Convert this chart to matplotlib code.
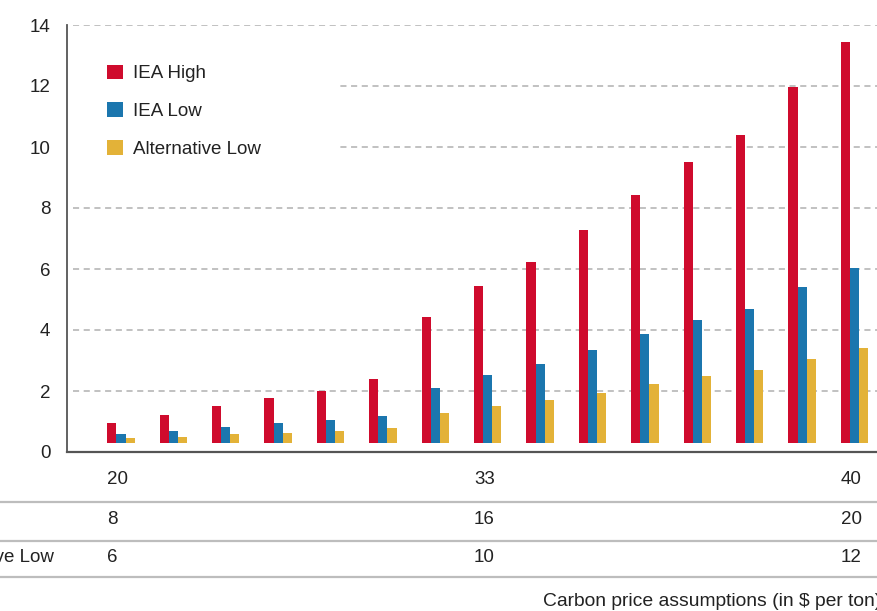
import numpy as np
import matplotlib
matplotlib.use('Agg')
import matplotlib.pyplot as plt
from matplotlib.patches import Rectangle

plt.rcParams['font.family'] = ['Liberation Sans', 'DejaVu Sans']
fs = 13.5

## Data
series = ['IEA High', 'IEA Low', 'Alternative Low']
iea_high = [0.96, 1.22, 1.51, 1.76, 2.01, 2.38, 4.43, 5.44, 6.23, 7.27, 8.44, 9.52, 10.38, 11.98, 13.45]
iea_low  = [0.58, 0.69, 0.81, 0.94, 1.04, 1.19, 2.10, 2.52, 2.87, 3.34, 3.86, 4.32, 4.70, 5.40, 6.03]
alt_low  = [0.45, 0.50, 0.58, 0.63, 0.69, 0.79, 1.27, 1.50, 1.69, 1.95, 2.22, 2.48, 2.68, 3.05, 3.40]
yticks = [0, 2, 4, 6, 8, 10, 12, 14]

# carbon price table below the chart
table_cols = [0, 7, 14]               # group index where each column sits
table_rows = ['IEA High', 'IEA Low', 'Alternative Low']
table_vals = [['20', '33', '40'],
              ['8', '16', '20'],
              ['6', '10', '12']]
caption = 'Carbon price assumptions (in $ per ton)'

colors = ['#CF0B2D', '#1B76AE', '#E3B238']
W, H = 877, 611

fig = plt.figure(figsize=(W/100, H/100), dpi=100)
ax = fig.add_axes([67/W, 159/H, 810/W, 427/H])

x = np.arange(len(iea_high))
bw = 0.174
base = 0.3   # bars float slightly above the axis line in the original
for i, (vals, c, lab) in enumerate(zip([iea_high, iea_low, alt_low], colors, series)):
    ax.bar(x + (i-1)*bw, np.array(vals) - base, bw, bottom=base, color=c, label=lab,
           zorder=3, linewidth=0)

ax.set_xlim(-1.03, 14.43)
ax.set_ylim(0, 14)
ax.set_yticks(yticks)
ax.set_xticks([])
ax.tick_params(axis='y', length=0, pad=12, labelsize=fs, labelcolor='#222222')

# dashed gridlines
for yv in yticks[1:]:
    ax.axhline(yv, xmin=0.008, xmax=1, color='#b0b0b0', lw=1.1, ls=(0, (4, 3)), zorder=1)

for s in ['top', 'right']:
    ax.spines[s].set_visible(False)
ax.spines['left'].set_color('#555555')
ax.spines['left'].set_linewidth(1.3)
ax.spines['bottom'].set_color('#555555')
ax.spines['bottom'].set_linewidth(1.6)

# white box behind the legend hides the gridlines there
ax.add_patch(Rectangle((0.005, 0.69), 0.33, 0.26, transform=ax.transAxes,
                       facecolor='white', edgecolor='none', zorder=2))
leg = ax.legend(loc='upper left', bbox_to_anchor=(0.04, 0.925), frameon=False,
                fontsize=fs, handlelength=0.85, handleheight=0.85, handletextpad=0.55,
                labelspacing=1.05, borderaxespad=0)
for t in leg.get_texts():
    t.set_color('#222222')

# table below the chart
row_y = [480, 520, 557]
line_y = [502, 541, 577]
for yl in line_y:
    fig.add_artist(plt.Line2D([0, 1], [1 - yl/H, 1 - yl/H], transform=fig.transFigure,
                              color='#bdbdbd', lw=1.6))

tr = matplotlib.transforms.blended_transform_factory(ax.transData, fig.transFigure)
for r, yr in enumerate(row_y):
    for c, k in enumerate(table_cols):
        ax.text(k - 1.5*bw, 1 - yr/H, table_vals[r][c], transform=tr, ha='left',
                va='center', fontsize=fs, color='#222222', clip_on=False)

# row labels, left-aligned, mostly cut off by the left edge
fig.canvas.draw()
probe = fig.text(0, 0, table_rows[-1], fontsize=fs)
wpx = probe.get_window_extent(fig.canvas.get_renderer()).width
probe.remove()
x0 = (54 - wpx) / W
for lab, yr in zip(table_rows, row_y):
    fig.text(x0, 1 - yr/H, lab, ha='left', va='center', fontsize=fs, color='#222222')

fig.text(543/W, 1 - 602/H, caption, ha='left', va='center', fontsize=13.9, color='#222222')

fig.savefig('out.png', dpi=100)
